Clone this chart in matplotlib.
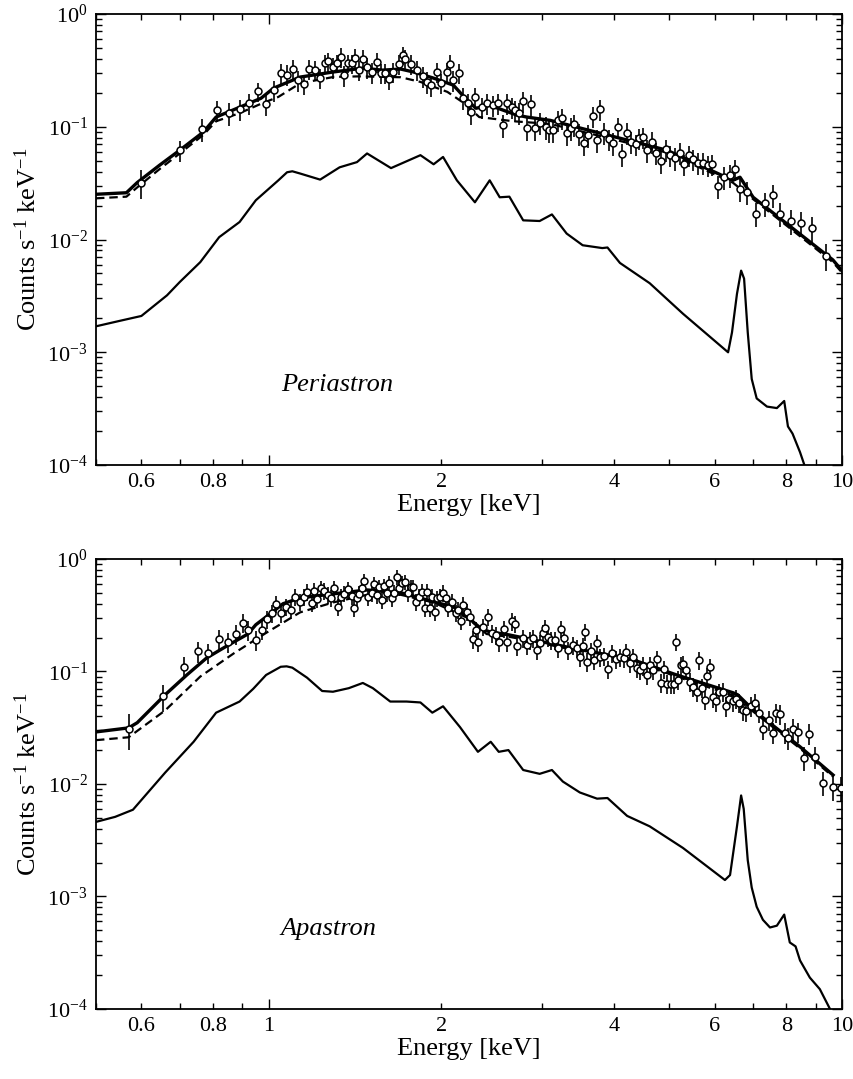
import numpy as np
import matplotlib
matplotlib.use("Agg")
import matplotlib.pyplot as plt
from matplotlib.ticker import FixedLocator, FixedFormatter, FuncFormatter, LogLocator, NullFormatter, LogFormatterSciNotation

plt.rcParams['font.family'] = ['Liberation Serif', 'DejaVu Serif']
plt.rcParams['mathtext.fontset'] = 'custom'
plt.rcParams['mathtext.rm'] = 'Liberation Serif'
plt.rcParams['mathtext.it'] = 'Liberation Serif:italic'
plt.rcParams['mathtext.default'] = 'regular'

# ---  PERIASTRON DATA  --- #
peri_energy = [0.60, 0.70, 0.765, 0.813, 0.853, 0.891, 0.924, 0.958, 0.99, 1.022,
               1.051, 1.077, 1.103, 1.125, 1.153, 1.176, 1.205, 1.229, 1.254, 1.27,
               1.295, 1.316, 1.337, 1.353, 1.375, 1.398, 1.415, 1.438, 1.461, 1.485,
               1.515, 1.545, 1.57, 1.596, 1.622, 1.648, 1.688, 1.715, 1.729, 1.771,
               1.814, 1.858, 1.889, 1.919, 1.966, 1.999, 2.047, 2.072, 2.097, 2.148,
               2.183, 2.227, 2.254, 2.291, 2.356, 2.404, 2.462, 2.512, 2.563, 2.605,
               2.658, 2.69, 2.734, 2.778, 2.823, 2.869, 2.915, 2.974, 3.046, 3.083,
               3.133, 3.196, 3.248, 3.313, 3.367, 3.408, 3.477, 3.548, 3.606, 3.679,
               3.738, 3.784, 3.845, 3.923, 3.987, 4.067, 4.133, 4.217, 4.285, 4.372,
               4.425, 4.497, 4.57, 4.662, 4.738, 4.834, 4.932, 5.012, 5.113, 5.217,
               5.303, 5.41, 5.497, 5.608, 5.72, 5.839, 5.934, 6.079, 6.225, 6.38,
               6.509, 6.641, 6.828, 7.079, 7.34, 7.58, 7.797, 8.149, 8.48, 8.863,
               9.378]
peri_rate = [0.032, 0.062, 0.095, 0.14, 0.132, 0.143, 0.162, 0.207, 0.16, 0.21,
             0.30, 0.29, 0.325, 0.26, 0.24, 0.325, 0.318, 0.27, 0.367, 0.38,
             0.338, 0.367, 0.415, 0.287, 0.367, 0.365, 0.407, 0.318, 0.40, 0.338,
             0.306, 0.375, 0.30, 0.30, 0.265, 0.306, 0.36, 0.432, 0.40, 0.36,
             0.318, 0.28, 0.249, 0.234, 0.306, 0.244, 0.306, 0.36, 0.26, 0.30,
             0.18, 0.162, 0.134, 0.183, 0.149, 0.162, 0.155, 0.162, 0.103, 0.162,
             0.149, 0.14, 0.132, 0.169, 0.097, 0.159, 0.097, 0.108, 0.099, 0.093,
             0.093, 0.114, 0.119, 0.088, 0.097, 0.105, 0.086, 0.0715, 0.084, 0.124,
             0.076, 0.143, 0.088, 0.0775, 0.0715, 0.099, 0.057, 0.088, 0.073, 0.07,
             0.079, 0.081, 0.062, 0.073, 0.059, 0.0495, 0.063, 0.056, 0.0525, 0.059,
             0.0465, 0.056, 0.0515, 0.0475, 0.0475, 0.0455, 0.0465, 0.0297, 0.0357, 0.0372,
             0.042, 0.0279, 0.0263, 0.017, 0.0209, 0.0247, 0.017, 0.0146, 0.0141, 0.0126,
             0.0072]
peri_err = [0.009, 0.013, 0.022, 0.03, 0.03, 0.03, 0.035, 0.04, 0.035, 0.045,
            0.06, 0.06, 0.065, 0.055, 0.05, 0.065, 0.065, 0.055, 0.07, 0.075,
            0.07, 0.07, 0.08, 0.06, 0.07, 0.07, 0.08, 0.065, 0.08, 0.07,
            0.065, 0.075, 0.06, 0.06, 0.055, 0.06, 0.07, 0.08, 0.075, 0.07,
            0.065, 0.06, 0.055, 0.05, 0.06, 0.05, 0.06, 0.07, 0.055, 0.06,
            0.04, 0.035, 0.03, 0.04, 0.032, 0.035, 0.034, 0.035, 0.024, 0.035,
            0.032, 0.03, 0.029, 0.036, 0.022, 0.034, 0.022, 0.024, 0.022, 0.021,
            0.021, 0.025, 0.026, 0.02, 0.022, 0.023, 0.019, 0.016, 0.019, 0.026,
            0.017, 0.03, 0.019, 0.017, 0.016, 0.021, 0.013, 0.019, 0.016, 0.015,
            0.017, 0.017, 0.014, 0.016, 0.013, 0.011, 0.014, 0.012, 0.012, 0.013,
            0.01, 0.012, 0.011, 0.0105, 0.0105, 0.01, 0.01, 0.007, 0.008, 0.0085,
            0.009, 0.0065, 0.006, 0.0042, 0.005, 0.0057, 0.0042, 0.0037, 0.0035, 0.0032,
            0.0019]

# total model (thick), cool component (dashed), hot component (thin)
peri_total_e = [0.5, 0.565, 0.59, 0.645, 0.70, 0.77, 0.81, 0.89, 0.97, 1.02,
                1.135, 1.295, 1.46, 1.58, 1.70, 1.79, 1.94, 2.1, 2.22, 2.30,
                2.43, 2.71, 2.82, 3.1, 3.78, 4.95, 6.45, 6.64, 7.0, 9.64, 10.0]
peri_total = [0.0252, 0.026, 0.032, 0.0455, 0.062, 0.09, 0.122, 0.149, 0.179, 0.22,
              0.276, 0.306, 0.331, 0.318, 0.325, 0.306, 0.27, 0.234, 0.172, 0.146,
              0.155, 0.127, 0.122, 0.114, 0.088, 0.062, 0.0335, 0.0357, 0.0237, 0.0066, 0.0053]
peri_cool_e = [0.5, 0.565, 0.59, 0.645, 0.70, 0.77, 0.81, 0.89, 0.97, 1.04,
               1.135, 1.30, 1.44, 1.70, 1.84, 2.05, 2.2, 2.33, 2.67, 3.1,
               3.78, 4.95, 6.45, 7.0, 9.64, 10.0]
peri_cool = [0.0232, 0.024, 0.029, 0.042, 0.058, 0.085, 0.112, 0.132, 0.16, 0.184,
             0.243, 0.277, 0.28, 0.275, 0.25, 0.204, 0.16, 0.122, 0.112, 0.106,
             0.083, 0.059, 0.032, 0.0228, 0.0063, 0.0051]
peri_hot_e = [0.5, 0.55, 0.6, 0.665, 0.70, 0.76, 0.82, 0.89, 0.95, 1.04, 1.077,
              1.10, 1.135, 1.23, 1.33, 1.426, 1.485, 1.635, 1.84, 1.94, 2.015, 2.13,
              2.29, 2.43, 2.53, 2.63, 2.78, 2.97, 3.12, 3.31, 3.53, 3.82,
              3.9, 4.1, 4.62, 5.28, 6.33, 6.43, 6.56, 6.67, 6.75, 6.85,
              6.96, 7.1, 7.4, 7.7, 7.93, 8.05, 8.2, 8.45, 8.6, 8.8]
peri_hot = [0.0017, 0.0019, 0.0021, 0.0032, 0.0042, 0.0063, 0.0105, 0.0143, 0.0223, 0.0335, 0.0395,
            0.0403, 0.0385, 0.034, 0.0437, 0.0486, 0.058, 0.043, 0.056, 0.0465, 0.054, 0.0335,
            0.0214, 0.0335, 0.0237, 0.024, 0.0148, 0.0146, 0.0167, 0.0113, 0.0089, 0.0084,
            0.0085, 0.0062, 0.0041, 0.0022, 0.001, 0.0015, 0.0033, 0.0053, 0.0045, 0.0015,
            0.00058, 0.00039, 0.00033, 0.00032, 0.00037, 0.00022, 0.00019, 0.00013, 0.0001, 0.00007]

# ---  APASTRON DATA  --- #
apa_energy = [0.571, 0.654, 0.712, 0.753, 0.784, 0.82, 0.85, 0.877, 0.902, 0.92,
              0.951, 0.974, 0.994, 1.014, 1.03, 1.051, 1.072, 1.094, 1.112, 1.135,
              1.153, 1.167, 1.19, 1.20, 1.215, 1.234, 1.249, 1.27, 1.285, 1.30,
              1.32, 1.337, 1.353, 1.375, 1.398, 1.41, 1.426, 1.438, 1.455, 1.467,
              1.49, 1.515, 1.527, 1.545, 1.558, 1.577, 1.59, 1.609, 1.622, 1.641,
              1.654, 1.674, 1.688, 1.708, 1.729, 1.75, 1.771, 1.786, 1.807, 1.829,
              1.851, 1.873, 1.889, 1.911, 1.927, 1.951, 1.966, 1.99, 2.015, 2.039,
              2.056, 2.089, 2.123, 2.14, 2.166, 2.183, 2.218, 2.245, 2.272, 2.30,
              2.318, 2.365, 2.414, 2.453, 2.492, 2.522, 2.574, 2.605, 2.658, 2.69,
              2.712, 2.778, 2.823, 2.857, 2.892, 2.939, 2.974, 3.01, 3.04, 3.07,
              3.108, 3.158, 3.196, 3.235, 3.274, 3.327, 3.394, 3.449, 3.492, 3.534,
              3.562, 3.591, 3.649, 3.693, 3.738, 3.784, 3.845, 3.907, 3.971, 4.035,
              4.10, 4.167, 4.20, 4.268, 4.32, 4.39, 4.443, 4.497, 4.57, 4.625,
              4.681, 4.757, 4.834, 4.893, 4.952, 5.032, 5.093, 5.133, 5.175, 5.238,
              5.28, 5.345, 5.431, 5.497, 5.585, 5.631, 5.70, 5.77, 5.816, 5.886,
              5.957, 6.03, 6.104, 6.20, 6.275, 6.351, 6.457, 6.536, 6.615, 6.72,
              6.801, 6.938, 7.05, 7.165, 7.281, 7.46, 7.58, 7.673, 7.797, 7.955,
              8.05, 8.215, 8.38, 8.584, 8.757, 8.97, 9.265, 9.644, 9.98]
apa_rate = [0.031, 0.060, 0.11, 0.152, 0.146, 0.195, 0.183, 0.216, 0.27, 0.234,
            0.191, 0.234, 0.293, 0.33, 0.40, 0.33, 0.375, 0.353, 0.46, 0.415,
            0.46, 0.51, 0.407, 0.52, 0.442, 0.553, 0.52, 0.48, 0.45, 0.553,
            0.375, 0.46, 0.49, 0.54, 0.47, 0.367, 0.45, 0.49, 0.553, 0.638,
            0.46, 0.50, 0.60, 0.479, 0.564, 0.432, 0.575, 0.50, 0.612, 0.45,
            0.50, 0.69, 0.553, 0.612, 0.625, 0.50, 0.564, 0.564, 0.415, 0.46,
            0.51, 0.367, 0.51, 0.367, 0.46, 0.338, 0.45, 0.46, 0.50, 0.45,
            0.367, 0.415, 0.33, 0.353, 0.28, 0.39, 0.338, 0.306, 0.195, 0.234,
            0.183, 0.249, 0.306, 0.22, 0.211, 0.183, 0.239, 0.183, 0.28, 0.265,
            0.169, 0.199, 0.172, 0.191, 0.199, 0.155, 0.179, 0.22, 0.244, 0.203,
            0.191, 0.191, 0.162, 0.239, 0.199, 0.155, 0.172, 0.162, 0.134, 0.169,
            0.225, 0.122, 0.152, 0.127, 0.179, 0.134, 0.137, 0.105, 0.146, 0.129,
            0.134, 0.132, 0.149, 0.119, 0.134, 0.108, 0.103, 0.112, 0.093, 0.114,
            0.103, 0.129, 0.079, 0.105, 0.0775, 0.0775, 0.0775, 0.183, 0.084, 0.114,
            0.117, 0.103, 0.081, 0.073, 0.066, 0.127, 0.0715, 0.056, 0.091, 0.11,
            0.059, 0.055, 0.065, 0.066, 0.049, 0.057, 0.055, 0.057, 0.0525, 0.0455,
            0.0445, 0.049, 0.0525, 0.043, 0.031, 0.037, 0.0285, 0.043, 0.042, 0.0285,
            0.0257, 0.031, 0.029, 0.0171, 0.028, 0.0175, 0.0103, 0.0094, 0.0092]
apa_err = [0.011, 0.016, 0.025, 0.032, 0.03, 0.04, 0.037, 0.043, 0.052, 0.046,
           0.038, 0.045, 0.055, 0.06, 0.07, 0.06, 0.065, 0.062, 0.078, 0.07,
           0.078, 0.085, 0.068, 0.085, 0.074, 0.09, 0.085, 0.08, 0.075, 0.09,
           0.064, 0.076, 0.08, 0.088, 0.078, 0.062, 0.075, 0.08, 0.09, 0.1,
           0.076, 0.082, 0.095, 0.078, 0.09, 0.072, 0.092, 0.082, 0.096, 0.074,
           0.082, 0.105, 0.088, 0.096, 0.097, 0.082, 0.09, 0.09, 0.07, 0.076,
           0.083, 0.062, 0.083, 0.062, 0.076, 0.057, 0.074, 0.076, 0.082, 0.074,
           0.062, 0.07, 0.056, 0.06, 0.048, 0.065, 0.057, 0.052, 0.036, 0.042,
           0.034, 0.044, 0.053, 0.04, 0.038, 0.034, 0.042, 0.034, 0.049, 0.046,
           0.031, 0.036, 0.032, 0.035, 0.036, 0.029, 0.033, 0.04, 0.043, 0.037,
           0.035, 0.035, 0.03, 0.042, 0.036, 0.029, 0.031, 0.03, 0.025, 0.031,
           0.04, 0.023, 0.028, 0.024, 0.032, 0.025, 0.025, 0.02, 0.027, 0.024,
           0.025, 0.024, 0.027, 0.022, 0.025, 0.02, 0.019, 0.021, 0.018, 0.021,
           0.019, 0.024, 0.015, 0.02, 0.015, 0.015, 0.015, 0.03, 0.016, 0.021,
           0.021, 0.019, 0.016, 0.014, 0.013, 0.023, 0.014, 0.011, 0.017, 0.02,
           0.012, 0.011, 0.012, 0.013, 0.01, 0.011, 0.011, 0.011, 0.01, 0.009,
           0.009, 0.01, 0.01, 0.0085, 0.0065, 0.0075, 0.006, 0.0085, 0.0085, 0.006,
           0.0055, 0.0065, 0.006, 0.004, 0.006, 0.004, 0.0025, 0.0023, 0.0023]

apa_total_e = [0.5, 0.57, 0.59, 0.66, 0.72, 0.78, 0.845, 0.92, 0.95, 0.994,
               1.06, 1.135, 1.295, 1.485, 1.70, 1.81, 1.94, 2.1, 2.22, 2.35,
               2.43, 2.63, 2.89, 3.31, 4.32, 5.15, 6.46, 6.58, 7.0, 8.45, 9.65]
apa_total = [0.029, 0.0315, 0.035, 0.062, 0.093, 0.132, 0.168, 0.215, 0.26, 0.31,
             0.40, 0.45, 0.489, 0.53, 0.50, 0.46, 0.415, 0.375, 0.306, 0.239,
             0.225, 0.211, 0.191, 0.165, 0.127, 0.093, 0.0646, 0.062, 0.0455, 0.0214, 0.012]
apa_cool_e = [0.5, 0.57, 0.66, 0.76, 0.87, 0.99, 1.135, 1.295, 1.485, 1.70,
              1.94, 2.22, 2.40, 2.63, 2.89, 3.31, 4.32, 5.15, 6.46, 7.0,
              8.45, 9.65]
apa_cool = [0.0245, 0.026, 0.045, 0.09, 0.145, 0.22, 0.335, 0.41, 0.48, 0.48,
            0.41, 0.30, 0.215, 0.203, 0.185, 0.16, 0.123, 0.09, 0.061, 0.044,
            0.0207, 0.0116]
apa_hot_e = [0.5, 0.54, 0.58, 0.66, 0.74, 0.81, 0.89, 0.94, 0.99, 1.05, 1.075, 1.10, 1.167,
             1.24, 1.295, 1.38, 1.46, 1.52, 1.63, 1.74, 1.84, 1.93, 2.015,
             2.157, 2.318, 2.44, 2.52, 2.62, 2.78, 2.97, 3.12, 3.26, 3.49,
             3.74, 3.9, 4.22, 4.62, 5.28, 6.25, 6.38, 6.56, 6.67, 6.74,
             6.85, 6.96, 7.1, 7.28, 7.49, 7.7, 7.93, 8.11, 8.3, 8.45,
             8.79, 9.15, 9.53, 10.0]
apa_hot = [0.0046, 0.0051, 0.0059, 0.0126, 0.0237, 0.043, 0.054, 0.07, 0.093, 0.11, 0.111, 0.108, 0.088,
           0.067, 0.066, 0.071, 0.079, 0.071, 0.054, 0.054, 0.053, 0.043, 0.049,
           0.032, 0.0193, 0.0237, 0.0193, 0.020, 0.0133, 0.0123, 0.0133, 0.0105, 0.0084,
           0.0074, 0.0075, 0.0052, 0.0042, 0.0027, 0.0014, 0.00155, 0.0042, 0.0079, 0.006,
           0.0021, 0.0012, 0.00081, 0.00062, 0.00053, 0.00055, 0.00069, 0.00039, 0.00036, 0.00027,
           0.00019, 0.00015, 0.0001, 0.00007]

xtick_labelled = [0.6, 0.8, 2, 4, 6, 8]


def draw_panel(ax, energy, rate, err, tot_e, tot, cool_e, cool, hot_e, hot, name):
    ax.plot(hot_e, hot, color='black', lw=1.6, zorder=2)
    ax.plot(cool_e, cool, color='black', lw=1.6, ls=(0, (3.8, 2.2)), zorder=2)
    ax.plot(tot_e, tot, color='black', lw=2.4, zorder=2)
    ax.errorbar(energy, rate, yerr=err, fmt='o', ms=5, mfc='white', mec='black',
                mew=1.1, ecolor='black', elinewidth=1.2, capsize=0, zorder=3)
    ax.text(1.05, 5.1e-4, name, style='italic', fontsize=19, ha='left', va='center')

    ax.set_xscale('log')
    ax.set_yscale('log')
    ax.set_xlim(0.5, 10)
    ax.set_ylim(1e-4, 1)

    ax.xaxis.set_major_locator(FixedLocator([1, 10]))
    ax.xaxis.set_major_formatter(FixedFormatter(['1', '10']))
    ax.xaxis.set_minor_locator(FixedLocator([0.5, 0.6, 0.7, 0.8, 0.9, 2, 3, 4, 5, 6, 7, 8, 9]))
    ax.xaxis.set_minor_formatter(FuncFormatter(
        lambda v, p: ('%g' % v) if any(abs(v - t) < 1e-6 for t in xtick_labelled) else ''))
    ax.yaxis.set_major_locator(LogLocator(base=10, numticks=10))
    ax.yaxis.set_major_formatter(LogFormatterSciNotation())
    ax.yaxis.set_minor_locator(LogLocator(base=10, subs=np.arange(2, 10), numticks=20))
    ax.yaxis.set_minor_formatter(NullFormatter())

    ax.tick_params(which='both', direction='in', top=True, right=True,
                   labelsize=16, pad=6, width=1.0)
    ax.tick_params(which='major', length=7)
    ax.tick_params(which='minor', length=4)
    for s in ax.spines.values():
        s.set_linewidth(1.3)

    ax.set_xlabel('Energy [keV]', fontsize=19, labelpad=1)
    ax.set_ylabel(r'Counts s$^{-1}$ keV$^{-1}$', fontsize=19, labelpad=4)


fig = plt.figure(figsize=(8.54, 10.79), dpi=100)
ax1 = fig.add_axes([0.1124, 0.5690, 0.8735, 0.4180])
ax2 = fig.add_axes([0.1124, 0.0649, 0.8735, 0.4171])

draw_panel(ax1, peri_energy, peri_rate, peri_err, peri_total_e, peri_total,
           peri_cool_e, peri_cool, peri_hot_e, peri_hot, 'Periastron')
draw_panel(ax2, apa_energy, apa_rate, apa_err, apa_total_e, apa_total,
           apa_cool_e, apa_cool, apa_hot_e, apa_hot, 'Apastron')

fig.savefig('out.png', dpi=100)
